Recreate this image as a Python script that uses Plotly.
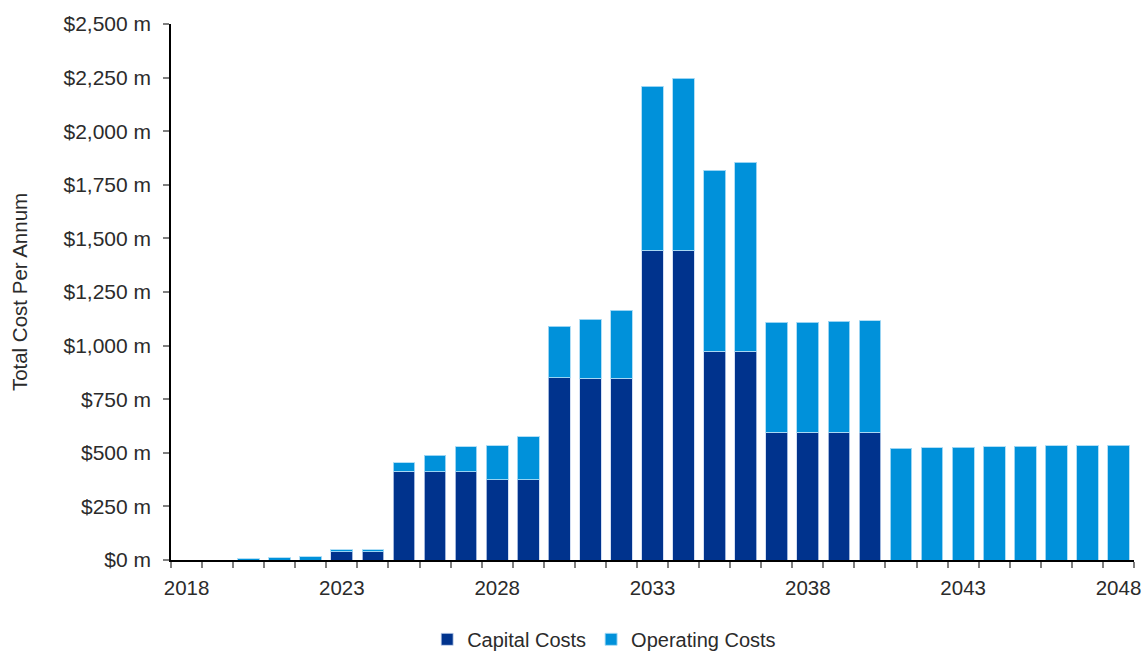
import plotly.graph_objects as go

# Annual programme costs, $ millions
years = list(range(2018, 2049))
capital_costs = [0, 0, 0, 0, 0, 38, 38, 414, 412, 412, 375, 375, 850, 847, 847,
                 1444, 1444, 973, 973, 597, 597, 597, 597,
                 0, 0, 0, 0, 0, 0, 0, 0]
operating_costs = [0, 0, 5, 10, 16, 9, 9, 39, 76, 117, 159, 199, 240, 277, 319,
                   766, 803, 845, 883, 511, 513, 516, 519,
                   521, 523, 525, 528, 530, 532, 534, 535]
label_years = [2018, 2023, 2028, 2033, 2038, 2043, 2048]

FONT = "Liberation Sans"
TEXT = "#2b2b2b"
CAPITAL = "#00338D"
OPERATING = "#0091DA"

fig = go.Figure()
fig.add_trace(go.Bar(
    x=years, y=capital_costs, name="Capital Costs", width=0.7,
    marker=dict(color=CAPITAL, line=dict(color="rgba(200,215,240,0.8)", width=1)),
))
fig.add_trace(go.Bar(
    x=years, y=operating_costs, name="Operating Costs", width=0.7,
    marker=dict(color=OPERATING, line=dict(color="rgba(170,220,245,0.9)", width=1)),
))

fig.update_layout(
    barmode="stack",
    width=1145, height=653,
    margin=dict(l=171, r=11, t=24, b=93, autoexpand=False),
    paper_bgcolor="white", plot_bgcolor="white",
    font=dict(family=FONT, size=20, color=TEXT),
    showlegend=True,
    legend=dict(orientation="h", x=0.266, xanchor="left", y=-0.148, yanchor="middle",
                font=dict(size=20, color=TEXT), itemwidth=30, traceorder="normal"),
)

fig.update_xaxes(
    range=[2017.5, 2048.5], automargin=False,
    tickmode="array", tickvals=label_years, ticktext=[str(y) for y in label_years],
    ticks="", showgrid=False, zeroline=False,
    showline=True, linecolor="black", linewidth=1.5,
    tickfont=dict(size=20.5, color=TEXT), ticklabelstandoff=9,
    minor=dict(tickmode="array", tickvals=[y + 0.5 for y in range(2017, 2049)],
               ticks="outside", ticklen=6, tickcolor="#7f7f7f", tickwidth=1.5,
               showgrid=False),
)

fig.update_yaxes(
    range=[0, 2500], tickmode="linear", tick0=0, dtick=250, automargin=False,
    tickprefix="$", tickformat=",d", ticksuffix=" m",
    ticks="outside", ticklen=6, tickcolor="#7f7f7f", tickwidth=1.5,
    showgrid=False, zeroline=False,
    showline=True, linecolor="black", linewidth=1.5,
    tickfont=dict(size=21, color=TEXT), ticklabelstandoff=8,
    title=dict(text="Total Cost Per Annum", font=dict(size=20.5, color=TEXT), standoff=30),
)

fig.write_html("out.html")
